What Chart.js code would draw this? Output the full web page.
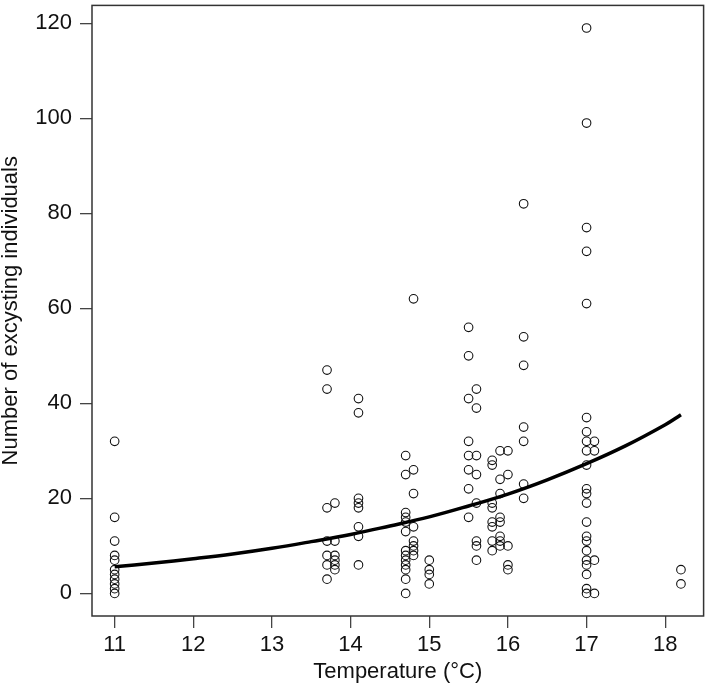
<!DOCTYPE html>
<html>
<head>
<meta charset="utf-8">
<script src="https://cdn.jsdelivr.net/npm/chart.js@4.4.1/dist/chart.umd.min.js"></script>
<style>
  html, body { margin: 0; padding: 0; background: #fff; }
  #wrap { width: 709px; height: 692px; }
</style>
</head>
<body>
<div id="wrap"><canvas id="myChart" width="709" height="692"></canvas></div>
<script>
// observed temperature of each sample (x) and number of excysting individuals (y)
const temperature = [
    11, 11, 11, 11, 11, 11, 11, 11, 11, 11, 11,
    13.7, 13.7, 13.7, 13.7, 13.7, 13.7, 13.7,
    13.8, 13.8, 13.8, 13.8, 13.8, 13.8,
    14.1, 14.1, 14.1, 14.1, 14.1, 14.1, 14.1, 14.1,
    14.7, 14.7, 14.7, 14.7, 14.7, 14.7, 14.7, 14.7, 14.7, 14.7, 14.7, 14.7, 14.7,
    14.8, 14.8, 14.8, 14.8, 14.8, 14.8, 14.8, 14.8,
    15, 15, 15, 15,
    15.5, 15.5, 15.5, 15.5, 15.5, 15.5, 15.5, 15.5,
    15.6, 15.6, 15.6, 15.6, 15.6, 15.6, 15.6, 15.6,
    15.8, 15.8, 15.8, 15.8, 15.8, 15.8, 15.8, 15.8,
    15.9, 15.9, 15.9, 15.9, 15.9, 15.9, 15.9, 15.9,
    16, 16, 16, 16, 16,
    16.2, 16.2, 16.2, 16.2, 16.2, 16.2, 16.2,
    17, 17, 17, 17, 17, 17, 17, 17, 17, 17, 17, 17, 17, 17, 17, 17, 17, 17, 17, 17, 17, 17,
    17.1, 17.1, 17.1, 17.1,
    18.2, 18.2
];
const excysting = [
    0, 1, 2, 3, 4, 5, 7, 8, 11, 16, 32,
    3, 6, 8, 11, 18, 43, 47,
    5, 6, 7, 8, 11, 19,
    6, 12, 14, 18, 19, 20, 38, 41,
    0, 3, 5, 6, 7, 8, 9, 13, 15, 16, 17, 25, 29,
    8, 9, 10, 11, 14, 21, 26, 62,
    2, 4, 5, 7,
    16, 22, 26, 29, 32, 41, 50, 56,
    7, 10, 11, 19, 25, 29, 39, 43,
    9, 11, 14, 15, 18, 19, 27, 28,
    10, 11, 12, 15, 16, 21, 24, 30,
    5, 6, 10, 25, 30,
    20, 23, 32, 35, 48, 54, 82,
    0, 1, 4, 6, 7, 9, 11, 12, 15, 19, 21, 22, 27, 30, 32, 34, 37, 61, 72, 77, 99, 119,
    0, 7, 30, 32,
    2, 5
];

// fitted curve
const fitTemp = [11, 11.5, 12, 12.5, 13, 13.5, 14, 14.5, 15, 15.5, 16, 16.5, 17, 17.5, 18, 18.2];
const fitCount = [5.6, 6.4, 7.3, 8.3, 9.5, 10.9, 12.4, 14.2, 16.1, 18.4, 20.9, 23.9, 27.3, 31.1, 35.5, 37.6];

const xTicks = [11, 12, 13, 14, 15, 16, 17, 18];
const yTicks = [0, 20, 40, 60, 80, 100, 120];

const points = temperature.map((t, i) => ({ x: t, y: excysting[i] }));
const fitLine = fitTemp.map((t, i) => ({ x: t, y: fitCount[i] }));

// box around the plot region (R style)
const boxPlugin = {
    id: 'box',
    afterDraw(chart) {
        const { ctx, chartArea: a } = chart;
        ctx.save();
        ctx.strokeStyle = '#333';
        ctx.lineWidth = 1.5;
        ctx.strokeRect(a.left, a.top, a.right - a.left, a.bottom - a.top);
        ctx.restore();
    }
};

const font = { family: "'Liberation Sans', Arial, Helvetica, sans-serif", size: 22 };

new Chart(document.getElementById('myChart'), {
    type: 'scatter',
    data: {
        datasets: [
            {
                label: 'observed',
                data: points,
                pointStyle: 'circle',
                pointRadius: 4.3,
                pointBorderWidth: 1.1,
                borderColor: '#111',
                backgroundColor: 'rgba(0,0,0,0)',
                showLine: false,
                order: 2
            },
            {
                label: 'fit',
                type: 'line',
                data: fitLine,
                borderColor: '#000',
                borderWidth: 3.5,
                pointRadius: 0,
                tension: 0.4,
                fill: false,
                order: 1
            }
        ]
    },
    options: {
        responsive: false,
        animation: false,
        layout: { padding: { top: 1, right: 2, left: 0, bottom: 0 } },
        plugins: {
            legend: { display: false },
            tooltip: { enabled: false }
        },
        scales: {
            x: {
                type: 'linear',
                min: 10.712,
                max: 18.488,
                afterBuildTicks: axis => { axis.ticks = xTicks.map(v => ({ value: v })); },
                afterFit: s => { s.height = 76; s.paddingLeft = 0; s.paddingRight = 0; },
                grid: { drawOnChartArea: false, drawTicks: true, tickLength: 12, color: '#444', lineWidth: 1.3 },
                border: { display: false },
                ticks: { color: '#111', font: font, padding: 4, maxRotation: 0, autoSkip: false },
                title: {
                    display: true,
                    text: 'Temperature (°C)',
                    color: '#111',
                    font: font,
                    padding: { top: 0, bottom: 7 }
                }
            },
            y: {
                type: 'linear',
                min: -4.76,
                max: 123.76,
                afterBuildTicks: axis => { axis.ticks = yTicks.map(v => ({ value: v })); },
                afterFit: s => { s.width = 92; s.paddingTop = 0; s.paddingBottom = 0; },
                grid: { drawOnChartArea: false, drawTicks: true, tickLength: 12, color: '#444', lineWidth: 1.3 },
                border: { display: false },
                ticks: { color: '#111', font: font, padding: 8, autoSkip: false },
                title: {
                    display: true,
                    text: 'Number of excysting individuals',
                    color: '#111',
                    font: Object.assign({ lineHeight: 1 }, font),
                    padding: { top: 0, bottom: 0 }
                }
            }
        }
    },
    plugins: [boxPlugin]
});
</script>
</body>
</html>
